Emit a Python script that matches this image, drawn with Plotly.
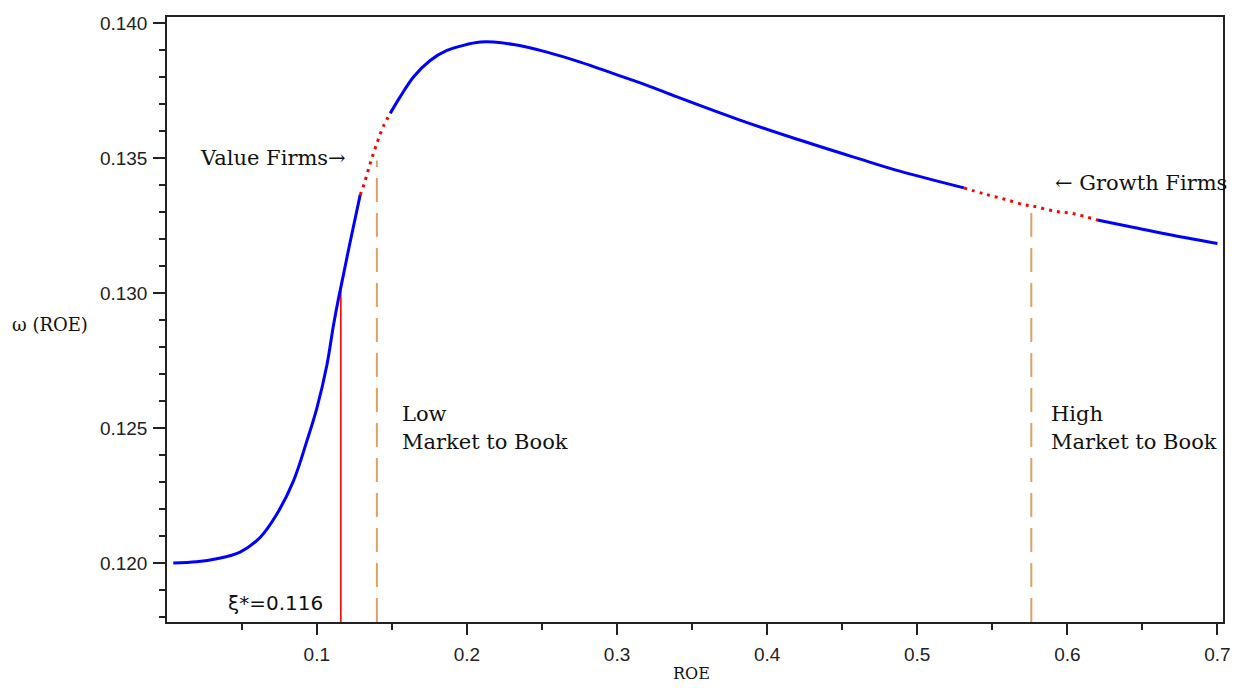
import plotly.graph_objects as go
import numpy as np

# ---- data ----
roe = [0.0044, 0.0200, 0.0333, 0.0489, 0.0622, 0.0733, 0.0844, 0.0933, 0.1000, 0.1067,
       0.1111, 0.1144, 0.1167, 0.1220, 0.1289, 0.1317, 0.1362, 0.1389, 0.1415, 0.1444,
       0.1489, 0.1555, 0.1644, 0.1755, 0.1867, 0.1977, 0.2089, 0.2178, 0.2311,
       0.2533, 0.2755, 0.2977, 0.3200, 0.3400, 0.3800, 0.4200, 0.4600, 0.4889,
       0.5311, 0.5444, 0.5577, 0.5710, 0.5776, 0.5911, 0.6044, 0.6200, 0.6444,
       0.6667, 0.7000]
omega = [0.12000, 0.12004, 0.12015, 0.12040, 0.12094, 0.12180, 0.12303, 0.12450, 0.12572, 0.12732,
         0.12880, 0.12978, 0.13039, 0.13183, 0.13363, 0.13407, 0.13491, 0.13536, 0.13577, 0.13618,
         0.13665, 0.13726, 0.13800, 0.13861, 0.13898, 0.13917, 0.13929, 0.13929, 0.13920,
         0.13892, 0.13855, 0.13812, 0.13769, 0.13726, 0.13644, 0.13569, 0.13499, 0.13450,
         0.13389, 0.13367, 0.13348, 0.13327, 0.13321, 0.13303, 0.13293, 0.13270, 0.13242,
         0.13217, 0.13183]

dotted_ranges = [(0.1289, 0.1489), (0.5311, 0.6200)]

xi_star = 0.116
omega_xi = 0.1301
low_mb_roe = 0.140
low_mb_top = 0.1349
high_mb_roe = 0.576
high_mb_top = 0.1332

x_range = [0.0002, 0.7037]
y_range = [0.11781, 0.14022]
y_ticks = [0.120, 0.125, 0.130, 0.135, 0.140]
y_ticklabels = ["0.120", "0.125", "0.130", "0.135", "0.140"]
x_ticks = [0.1, 0.2, 0.3, 0.4, 0.5, 0.6, 0.7]
x_ticklabels = ["0.1", "0.2", "0.3", "0.4", "0.5", "0.6", "0.7"]

# ---- build segments ----
x = np.array(roe)
y = np.array(omega)
edges = [x.min()] + [v for r in dotted_ranges for v in r] + [x.max()]
segments = []
for i in range(len(edges) - 1):
    lo, hi = edges[i], edges[i + 1]
    m = (x >= lo - 1e-9) & (x <= hi + 1e-9)
    segments.append((x[m], y[m], i % 2 == 1))

SERIF = "DejaVu Serif"
SANS = "Liberation Sans"

fig = go.Figure()

# vertical reference lines
fig.add_trace(go.Scatter(x=[xi_star, xi_star], y=[y_range[0], omega_xi], mode="lines",
                         line=dict(color="#FF0000", width=1.6), hoverinfo="skip", showlegend=False))
for xv, top in [(low_mb_roe, low_mb_top), (high_mb_roe, high_mb_top)]:
    fig.add_trace(go.Scatter(x=[xv, xv], y=[y_range[0], top], mode="lines",
                             line=dict(color="#DDA060", width=2, dash="24px,11px"),
                             hoverinfo="skip", showlegend=False))

for sx, sy, dotted in segments:
    if dotted:
        fig.add_trace(go.Scatter(x=sx, y=sy, mode="lines",
                                 line=dict(color="#FF0000", width=3, dash="3px,5px", shape="spline"),
                                 showlegend=False))
    else:
        fig.add_trace(go.Scatter(x=sx, y=sy, mode="lines",
                                 line=dict(color="#0000FF", width=3, shape="spline"),
                                 showlegend=False))

ann_font = dict(family=SERIF, size=21, color="#111")
annotations = [
    dict(x=0.0209, y=0.1350, text="Value Firms\u2192", xanchor="left", yanchor="middle", font=ann_font),
    dict(x=0.5902, y=0.13407, text="\u2190 Growth Firms", xanchor="left", yanchor="middle", font=ann_font),
    dict(x=0.1555, y=0.12553, text="Low", xanchor="left", yanchor="middle", font=ann_font),
    dict(x=0.1555, y=0.12446, text="Market to Book", xanchor="left", yanchor="middle", font=ann_font),
    dict(x=0.5875, y=0.12553, text="High", xanchor="left", yanchor="middle", font=ann_font),
    dict(x=0.5875, y=0.12446, text="Market to Book", xanchor="left", yanchor="middle", font=ann_font),
    dict(x=0.1056, y=0.11853, text="\u03be*=0.116", xanchor="right", yanchor="middle",
         font=dict(family="DejaVu Sans", size=20, color="#111")),
    dict(xref="paper", yref="paper", x=-0.1487, y=0.4924, text="\u03c9 (ROE)", xanchor="left",
         yanchor="middle", font=dict(family=SERIF, size=18, color="#111")),
    dict(xref="paper", yref="paper", x=0.497, y=-0.0843, text="ROE", xanchor="center",
         yanchor="middle", font=dict(family=SERIF, size=16, color="#111")),
]
for a in annotations:
    a["showarrow"] = False
    a.setdefault("xref", "x")
    a.setdefault("yref", "y")

# page body has an 8px margin, so the figure is sized to fit the window
fig.update_layout(
    width=1232, height=680,
    margin=dict(l=159, r=17, t=5, b=66),
    paper_bgcolor="white", plot_bgcolor="white",
    annotations=annotations,
    showlegend=False,
)
fig.update_xaxes(range=x_range, tickvals=x_ticks, ticktext=x_ticklabels,
                 showgrid=False, zeroline=False, showline=True, linecolor="#222", linewidth=1.5,
                 mirror=True, ticks="outside", ticklen=11, tickwidth=1.5, tickcolor="#222",
                 ticklabelstandoff=3,
                 tickfont=dict(family=SANS, size=19, color="#222"),
                 minor=dict(dtick=0.05, tick0=0.05, ticks="outside", ticklen=6, tickwidth=1.5,
                            tickcolor="#222", showgrid=False))
fig.update_yaxes(range=y_range, tickvals=y_ticks, ticktext=y_ticklabels,
                 showgrid=False, zeroline=False, showline=True, linecolor="#222", linewidth=1.5,
                 mirror=True, ticks="outside", ticklen=12, tickwidth=1.5, tickcolor="#222",
                 ticklabelstandoff=2,
                 tickfont=dict(family=SANS, size=19, color="#222"),
                 minor=dict(dtick=0.001, tick0=0.0, ticks="outside", ticklen=6, tickwidth=1.5,
                            tickcolor="#222", showgrid=False))

fig.write_html("out.html")
